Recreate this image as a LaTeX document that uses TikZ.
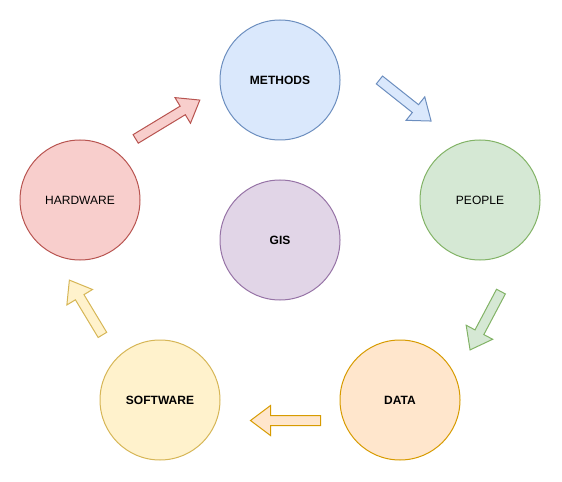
\documentclass[tikz,border=0pt]{standalone}
\usepackage{fontspec}
\setmainfont{Liberation Sans}
\definecolor{bfill}{HTML}{DAE8FC}\definecolor{bline}{HTML}{6C8EBF}
\definecolor{gfill}{HTML}{D5E8D4}\definecolor{gline}{HTML}{82B366}
\definecolor{ofill}{HTML}{FFE6CC}\definecolor{oline}{HTML}{D79B00}
\definecolor{yfill}{HTML}{FFF2CC}\definecolor{yline}{HTML}{D6B656}
\definecolor{rfill}{HTML}{F8CECC}\definecolor{rline}{HTML}{B85450}
\definecolor{pfill}{HTML}{E1D5E7}\definecolor{pline}{HTML}{9673A6}
\tikzset{
  circ/.style 2 args={circle, draw=#1, fill=#2, line width=1bp, minimum size=120bp, inner sep=0pt,
    font=\fontsize{12.05pt}{14pt}\selectfont, text=black},
  barrowstyle/.style 2 args={draw=#1, fill=#2, line width=1bp, line join=miter},
  barrow/.pic={\path[pic actions] ({-#1/2},-5) -- ({#1/2-20},-5) -- ({#1/2-20},-15) -- ({#1/2},0) -- ({#1/2-20},15) -- ({#1/2-20},5) -- ({-#1/2},5) -- cycle;}
}
\begin{document}
\begin{tikzpicture}[x=1bp,y=-1bp]
\useasboundingbox (0,0) rectangle (562,482);
\node[circ={bline}{bfill}] (methods) at (280,80) {\textbf{METHODS}};
\node[circ={gline}{gfill}] (people) at (480,200) {PEOPLE};
\node[circ={oline}{ofill}] (data) at (400,400) {\textbf{DATA}};
\node[circ={yline}{yfill}] (software) at (160,400) {\textbf{SOFTWARE}};
\node[circ={rline}{rfill}] (hardware) at (80,200) {HARDWARE};
\node[circ={pline}{pfill}] (gis) at (280,240) {\textbf{GIS}};
\pic[barrowstyle={bline}{bfill}, rotate=-38.5] at (405.25,100.5) {barrow=66};
\pic[barrowstyle={gline}{gfill}, rotate=-117.9] at (485.5,320.75) {barrow=66};
\pic[barrowstyle={oline}{ofill}, rotate=-180] at (285.5,420.5) {barrow=70};
\pic[barrowstyle={yline}{yfill}, rotate=121.1] at (85.9,307.5) {barrow=64};
\pic[barrowstyle={rline}{rfill}, rotate=31.2] at (167.75,119.5) {barrow=75};
\end{tikzpicture}
\end{document}
